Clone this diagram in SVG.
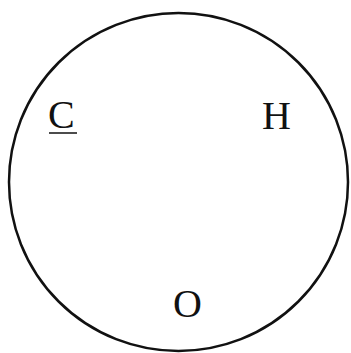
<svg xmlns="http://www.w3.org/2000/svg" width="351" height="353" viewBox="0 0 351 353">
<style>
.lbl{font-family:"Liberation Serif","Times New Roman",serif;font-size:40px;fill:#111}
</style>
<rect width="351" height="353" fill="#fff"/>
<g id="circle"><ellipse cx="178.5" cy="182" rx="169.5" ry="169" fill="none" stroke="#111" stroke-width="2.5"/></g>
<g id="node-C"><text class="lbl" x="48" y="128">C</text><line x1="49" y1="133" x2="77" y2="133" stroke="#111" stroke-width="1.5"/></g>
<g id="node-H"><text class="lbl" x="262" y="129">H</text></g>
<g id="node-O"><text class="lbl" x="187.5" y="317" text-anchor="middle">O</text></g>
<g id="connectors"></g>
</svg>
